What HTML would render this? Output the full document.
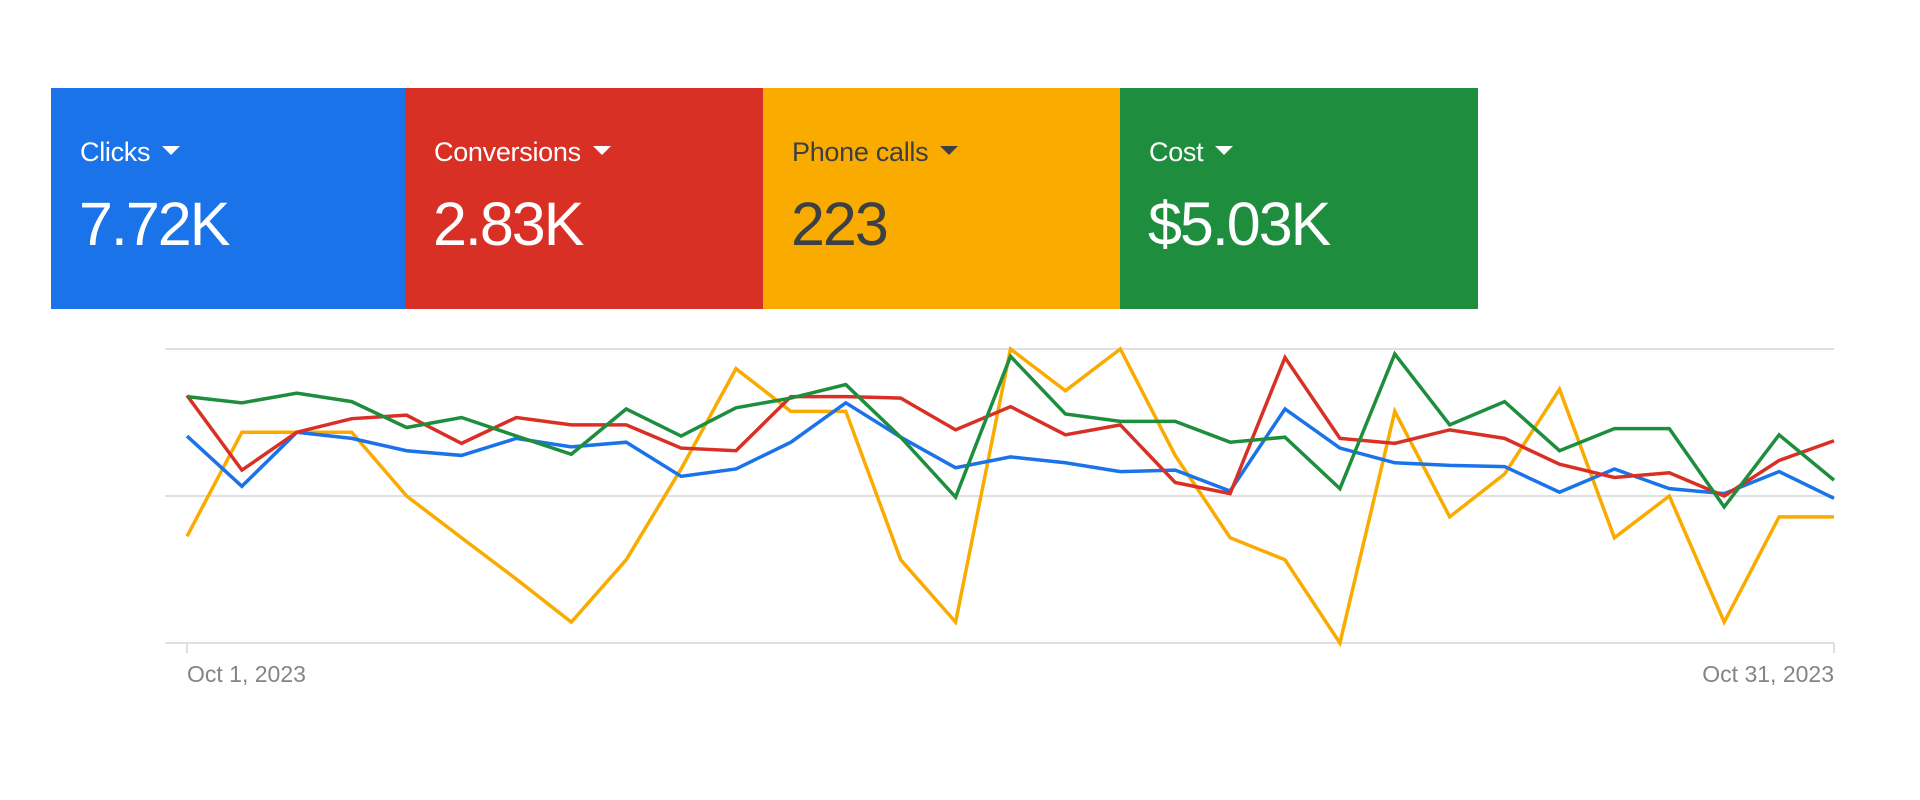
<!DOCTYPE html>
<html><head><meta charset="utf-8"><style>
body{margin:0;width:1920px;height:800px;background:#fff;font-family:"Liberation Sans",Arial,sans-serif;overflow:hidden;position:relative}
.card{position:absolute;top:88px;height:221px;width:358px;color:#fff}
.lab{position:absolute;left:29px;top:49px;font-size:27px;white-space:nowrap;letter-spacing:-0.3px}
.lab span{display:inline-block;margin-left:12px;width:0;height:0;border-left:9px solid transparent;border-right:9px solid transparent;border-top:9px solid currentColor;vertical-align:middle;position:relative;top:-3px}
.val{position:absolute;left:28px;top:101px;font-size:61px;white-space:nowrap;letter-spacing:-2px}
</style></head><body>
<div class="card" style="left:51px;background:#1a73e8"><div class="lab">Clicks<span></span></div><div class="val">7.72K</div></div>
<div class="card" style="left:405px;background:#d93025"><div class="lab">Conversions<span></span></div><div class="val">2.83K</div></div>
<div class="card" style="left:763px;background:#f9ab00;color:#3c4043"><div class="lab">Phone calls<span></span></div><div class="val">223</div></div>
<div class="card" style="left:1120px;background:#1e8e3e"><div class="lab">Cost<span></span></div><div class="val">$5.03K</div></div>
<svg id="chart" width="1920" height="800" style="position:absolute;left:0;top:0"></svg>
<script>
const xLabels=["Oct 1, 2023","Oct 31, 2023"];
const gridValues=[0,50,100];
const clicks=[70.4,53.3,71.7,69.6,65.4,63.8,69.6,66.7,68.3,56.7,59.2,68.3,81.7,70,59.6,63.3,61.3,58.3,58.8,51.7,79.6,66.3,61.3,60.4,60,51.3,59.2,52.5,50.8,58.3,49.2];
const conversions=[84.2,58.8,71.7,76.3,77.5,67.9,76.7,74.2,74.2,66.3,65.4,83.8,83.8,83.3,72.5,80.4,70.8,74.2,54.6,50.8,97.1,69.6,67.9,72.5,69.6,60.8,56.3,57.9,50,62.1,68.8];
const phoneCalls=[36.3,71.7,71.7,71.7,50,35.8,21.7,7.1,28.3,59.2,93.3,78.8,78.8,28.3,7.1,100,85.8,100,63.8,35.8,28.3,0,78.8,42.9,57.5,86.3,35.8,50,7.1,42.9,42.9];
const cost=[83.8,81.7,85,82.1,73.3,76.7,70.4,64.2,79.6,70.4,80,83.3,87.9,70,49.6,97.5,77.9,75.4,75.4,68.3,70,52.5,98.3,74.2,82.1,65.4,72.9,72.9,46.3,70.8,55.4];
const NS="http://www.w3.org/2000/svg";
const svg=document.getElementById('chart');
const x0=187,x1=1834,yTop=349,yBot=643;
function xs(i){return x0+(x1-x0)*i/(clicks.length-1);}
function ys(v){return yBot-(yBot-yTop)*v/100;}
gridValues.forEach(g=>{
  const l=document.createElementNS(NS,'line');
  
  
  l.setAttribute('x1',165);l.setAttribute('x2',1834);l.setAttribute('y1',ys(g));l.setAttribute('y2',ys(g));
  l.setAttribute('stroke','#e0e0e0');l.setAttribute('stroke-width','2');svg.appendChild(l);
});
[0,clicks.length-1].forEach((i,k)=>{
  const t=document.createElementNS(NS,'line');
  
  
  t.setAttribute('x1',xs(i));t.setAttribute('x2',xs(i));t.setAttribute('y1',yBot);t.setAttribute('y2',yBot+10);
  t.setAttribute('stroke','#e0e0e0');t.setAttribute('stroke-width','2');svg.appendChild(t);
  const tx=document.createElementNS(NS,'text');
  
  
  tx.setAttribute('x',xs(i));tx.setAttribute('y',682);
  tx.setAttribute('text-anchor',k?'end':'start');
  tx.setAttribute('font-size','23');tx.setAttribute('fill','#80868b');
  tx.setAttribute('font-family','Liberation Sans, Arial, sans-serif');
  tx.textContent=xLabels[k];svg.appendChild(tx);
});
[[phoneCalls,'#f9ab00','phone-calls-line'],[clicks,'#1a73e8','clicks-line'],[conversions,'#d93025','conversions-line'],[cost,'#1e8e3e','cost-line']].forEach(([d,c,n])=>{
  const p=document.createElementNS(NS,'polyline');
  
  
  p.setAttribute('points',d.map((v,i)=>xs(i)+','+ys(v)).join(' '));
  p.setAttribute('fill','none');p.setAttribute('stroke',c);p.setAttribute('stroke-width','3.5');
  p.setAttribute('stroke-linejoin','miter');
  svg.appendChild(p);
});
</script>
</body></html>
